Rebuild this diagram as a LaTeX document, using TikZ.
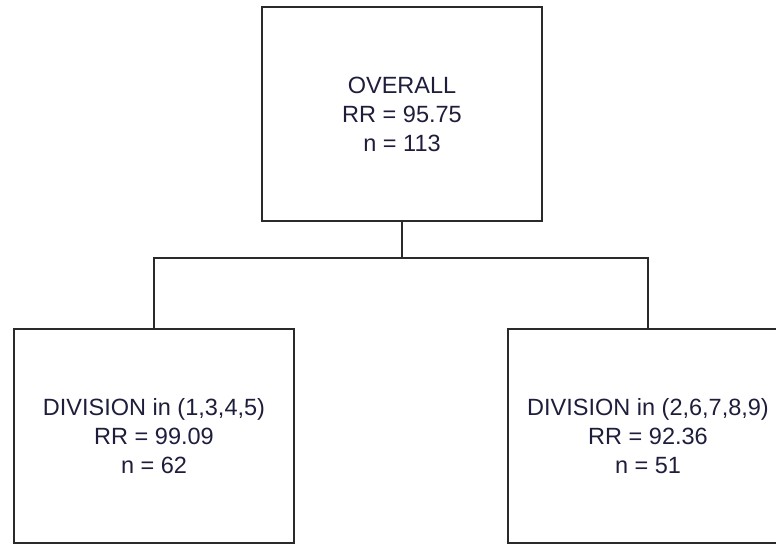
\documentclass[tikz,border=0pt]{standalone}
\usepackage{fontspec}
\setmainfont{Liberation Sans}
\definecolor{inktext}{HTML}{1E1E3C}
\definecolor{inkline}{HTML}{2A2A2A}
\begin{document}
\begin{tikzpicture}[x=1pt,y=1pt,
  treebox/.style={draw=inkline, line width=1.5pt, minimum width=280pt, minimum height=214pt,
    align=center, inner sep=0pt, font=\fontsize{23.5}{29}\selectfont, text=inktext},
  link/.style={draw=inkline, line width=1.5pt}]
\useasboundingbox (0,0) rectangle (776,-544);
\clip (0,0) rectangle (776,-544);
\node[treebox] (top) at (402,-114) {OVERALL\\RR = 95.75\\n = 113};
\node[treebox] (left) at (154,-436) {DIVISION in (1,3,4,5)\\RR = 99.09\\n = 62};
\node[treebox] (right) at (648,-436) {DIVISION in (2,6,7,8,9)\\RR = 92.36\\n = 51};
\coordinate (mid) at (402,-258);
\draw[link] (top.south) -- (mid);
\draw[link] (mid) -| (left.north);
\draw[link] (mid) -| (right.north);
\end{tikzpicture}
\end{document}
